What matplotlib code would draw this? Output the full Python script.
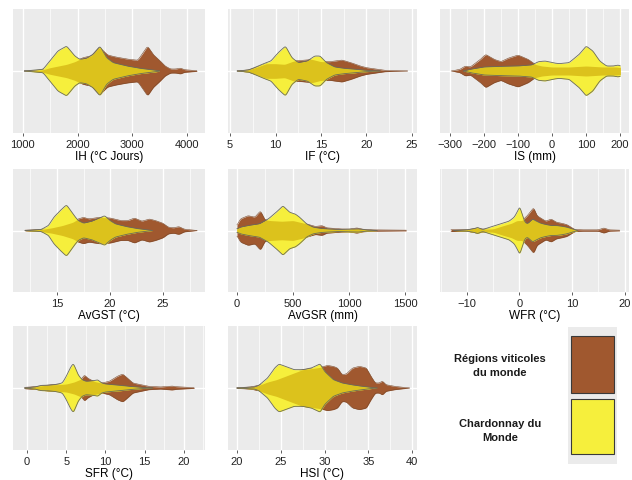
import numpy as np
import matplotlib.pyplot as plt

plt.rcParams['font.family'] = ['Liberation Sans', 'DejaVu Sans']

# Half-width profiles of each violin (value, half-width in px at 3x scale)
ih_brown_x = [1030, 1350, 1500, 1650, 1800, 1950, 2100, 2250, 2400, 2550, 2700, 2900, 3100, 3200, 3280, 3380, 3500, 3600, 3700, 3800, 3880, 3950, 4180]
ih_brown_w = [0, 3, 10, 15, 20, 28, 40, 45, 72, 48, 42, 36, 32, 55, 75, 50, 32, 15, 6, 6, 9, 4, 1]
ih_yellow_x = [1030, 1370, 1490, 1640, 1800, 1950, 2040, 2160, 2285, 2410, 2530, 2650, 2900, 3140, 3450, 3500]
ih_yellow_w = [0, 5, 30, 60, 75, 45, 35, 38, 50, 75, 40, 25, 15, 8, 2, 0]

if_brown_x = [5.8, 7, 8, 9, 10, 11, 12, 13, 14, 15, 16, 17.3, 18.3, 19.3, 20, 21, 22, 23, 24.5]
if_brown_w = [0, 3, 12, 22, 22, 20, 30, 32, 35, 28, 28, 33, 25, 15, 10, 6, 2, 1, 0]
if_yellow_x = [5.8, 7, 7.5, 8.5, 9.5, 10.3, 11.1, 11.8, 12.5, 13.5, 14.3, 14.9, 15.6, 16.5, 17.5, 18.5, 19.5, 20.5, 21.5]
if_yellow_w = [0, 3, 8, 20, 30, 55, 75, 40, 25, 30, 45, 45, 25, 12, 8, 6, 3, 1, 0]

is_brown_x = [-295, -270, -255, -240, -210, -195, -170, -150, -130, -100, -70, -50, -30, 0, 50, 100, 150, 190, 200]
is_brown_w = [0, 5, 15, 12, 35, 50, 35, 28, 38, 48, 35, 20, 15, 12, 12, 15, 12, 12, 10]
is_yellow_x = [-260, -240, -200, -150, -100, -60, -40, -20, 0, 20, 50, 80, 100, 120, 140, 160, 180, 195, 200]
is_yellow_w = [0, 5, 12, 14, 15, 18, 28, 30, 25, 22, 25, 50, 75, 60, 30, 15, 15, 18, 15]

gst_brown_x = [12, 13.5, 14.5, 15.5, 16.5, 17, 17.5, 18, 19, 20, 21, 21.7, 22.3, 23, 23.7, 24.3, 25, 25.5, 26, 26.5, 27, 28.2]
gst_brown_w = [1, 3, 8, 15, 25, 35, 40, 35, 40, 38, 30, 30, 38, 28, 35, 30, 22, 10, 8, 12, 4, 0]
gst_yellow_x = [12, 13.5, 14.2, 14.7, 15.3, 15.9, 16.5, 17, 17.5, 18.3, 19, 19.5, 20, 20.5, 21.5, 22.5, 23.5, 24]
gst_yellow_w = [0, 3, 15, 40, 60, 78, 50, 30, 22, 28, 38, 45, 30, 20, 12, 6, 2, 0]

gsr_brown_x = [0, 30, 100, 160, 210, 250, 300, 400, 500, 600, 700, 760, 800, 850, 900, 1000, 1070, 1120, 1200, 1510]
gsr_brown_w = [15, 35, 45, 40, 60, 32, 30, 28, 30, 22, 12, 15, 8, 7, 5, 4, 8, 4, 2, 1]
gsr_yellow_x = [0, 30, 100, 200, 280, 350, 410, 470, 520, 560, 620, 680, 750, 800, 900, 1000, 1080, 1150, 1250]
gsr_yellow_w = [5, 10, 15, 20, 35, 55, 75, 55, 50, 40, 20, 10, 6, 5, 3, 4, 5, 2, 0]

wfr_brown_x = [-13, -12, -10, -8, -7, -5, -3, -1.5, -0.5, 0.5, 1.5, 2.7, 3.3, 4, 5, 6, 7, 8, 9, 10, 10.5, 12, 15, 16, 17, 19]
wfr_brown_w = [3, 3, 2, 8, 4, 5, 15, 22, 30, 30, 45, 70, 45, 38, 28, 35, 25, 22, 18, 8, 3, 2, 2, 8, 2, 1]
wfr_yellow_x = [-12.5, -10, -8.5, -8, -7.5, -7, -6, -4, -2, -1, -0.3, 0, 0.5, 1, 1.5, 2.5, 3, 4, 5, 6, 7, 8, 9, 10, 11]
wfr_yellow_w = [0, 2, 6, 10, 6, 3, 8, 18, 28, 40, 60, 75, 50, 25, 20, 35, 30, 22, 18, 15, 15, 13, 10, 5, 0]

sfr_brown_x = [-0.3, 1, 2, 3, 4, 5, 6, 7, 7.3, 7.7, 8.5, 9.5, 10.5, 11.5, 12.2, 12.8, 13.5, 14.5, 15.5, 17, 18.5, 19, 21.3]
sfr_brown_w = [2, 4, 7, 10, 10, 12, 18, 28, 40, 30, 20, 15, 20, 35, 42, 30, 15, 10, 5, 3, 6, 4, 1]
sfr_yellow_x = [-0.3, 1, 1.8, 2.5, 3.5, 4.5, 5, 5.5, 5.9, 6.5, 7, 7.5, 8.5, 9, 9.5, 10, 11, 12, 13, 14, 15, 16]
sfr_yellow_w = [0, 3, 8, 8, 10, 15, 35, 60, 75, 40, 25, 20, 22, 25, 15, 12, 10, 8, 5, 3, 1, 0]

hsi_brown_x = [20, 21.5, 22.5, 23.5, 24.5, 25.5, 26.5, 27.5, 28.5, 29.5, 30.3, 31, 31.5, 32, 32.5, 33.2, 34, 34.8, 35.2, 35.8, 36.3, 36.6, 37, 38, 39.7]
hsi_brown_w = [1, 3, 8, 18, 25, 35, 45, 55, 58, 62, 68, 65, 60, 40, 42, 60, 65, 60, 40, 15, 15, 22, 10, 5, 0]
hsi_yellow_x = [20, 22, 22.5, 23.5, 24.3, 24.8, 25.5, 26.5, 27.5, 28.5, 29.5, 30, 31, 32, 33, 34, 35, 35.5, 36]
hsi_yellow_w = [0, 3, 8, 30, 60, 72, 65, 55, 55, 60, 73, 50, 25, 15, 10, 6, 3, 1, 0]

labels = ['IH (°C Jours)', 'IF (°C)', 'IS (mm)', 'AvGST (°C)', 'AvGSR (mm)',
          'WFR (°C)', 'SFR (°C)', 'HSI (°C)']
ticks = [[1000, 2000, 3000, 4000], [5, 10, 15, 20, 25], [-300, -200, -100, 0, 100, 200],
         [15, 20, 25], [0, 500, 1000, 1500], [-10, 0, 10, 20], [0, 5, 10, 15, 20],
         [20, 25, 30, 35, 40]]
limits = [(820, 4330), (4.78, 25.55), (-329, 226), (10.85, 28.96), (-80, 1607),
          (-15.1, 20.8), (-1.8, 22.7), (18.97, 40.57)]
legend_labels = ['Régions viticoles\ndu monde', 'Chardonnay du\nMonde']

profiles = [
    (ih_brown_x, ih_brown_w, ih_yellow_x, ih_yellow_w),
    (if_brown_x, if_brown_w, if_yellow_x, if_yellow_w),
    (is_brown_x, is_brown_w, is_yellow_x, is_yellow_w),
    (gst_brown_x, gst_brown_w, gst_yellow_x, gst_yellow_w),
    (gsr_brown_x, gsr_brown_w, gsr_yellow_x, gsr_yellow_w),
    (wfr_brown_x, wfr_brown_w, wfr_yellow_x, wfr_yellow_w),
    (sfr_brown_x, sfr_brown_w, sfr_yellow_x, sfr_yellow_w),
    (hsi_brown_x, hsi_brown_w, hsi_yellow_x, hsi_yellow_w),
]

BROWN = '#a0582f'
YELLOW = '#f6ef3c'
GOLD = '#dcc21c'
BG = '#ebebeb'
SCALE = 186.0  # px (3x) per axis unit


def smooth(y, n=5):
    k = np.exp(-0.5 * (np.arange(-3 * n, 3 * n + 1) / n) ** 2)
    k /= k.sum()
    pad = np.pad(y, 3 * n, mode='edge')
    return np.convolve(pad, k, mode='same')[3 * n:-3 * n]


def profile(grid, xs, ws):
    w = np.interp(grid, xs, np.asarray(ws) / SCALE, left=0, right=0)
    w = smooth(w)
    w[(grid < xs[0]) | (grid > xs[-1])] = np.nan
    return w


W, H = 632, 481
fig = plt.figure(figsize=(W / 100, H / 100), dpi=100)

cols = [(13, 205), (228, 417), (440, 629)]
rows = [(10, 134), (170, 293), (327, 451)]

for i, (bx, bw, yx, yw) in enumerate(profiles):
    x0, x1 = cols[i % 3]
    y0, y1 = rows[i // 3]
    ax = fig.add_axes([x0 / W, 1 - y1 / H, (x1 - x0) / W, (y1 - y0) / H])
    ax.set_facecolor(BG)
    for s in ax.spines.values():
        s.set_visible(False)

    lo, hi = limits[i]
    ax.set_xlim(lo, hi)
    ax.set_ylim(-1, 1)
    t = ticks[i]
    step = t[1] - t[0]
    minors = [v + step / 2 for v in [t[0] - step] + t if lo < v + step / 2 < hi]
    for m in minors:
        ax.axvline(m, color='white', lw=0.5, zorder=0)
    for v in t:
        ax.axvline(v, color='white', lw=1.0, zorder=0)
    ax.axhline(0, color='white', lw=1.0, zorder=0)

    grid = np.linspace(min(bx[0], yx[0]), max(bx[-1], yx[-1]), 900)
    b = profile(grid, bx, bw)
    y = profile(grid, yx, yw)
    g = np.fmin(np.nan_to_num(b), np.nan_to_num(y))

    ax.fill_between(grid, -b, b, color=BROWN, lw=0, zorder=2)
    ax.plot(grid, b, color='#7a4a2c', lw=0.4, zorder=2)
    ax.plot(grid, -b, color='#7a4a2c', lw=0.4, zorder=2)
    ax.fill_between(grid, -y, y, color=YELLOW, lw=0, zorder=3)
    ax.fill_between(grid, -g, g, color=GOLD, lw=0, zorder=4)
    ax.plot(grid, y, color='#6b6b5a', lw=0.6, zorder=5)
    ax.plot(grid, -y, color='#6b6b5a', lw=0.6, zorder=5)

    ax.set_xticks(t)
    ax.set_xticklabels([f'{v:g}'.replace('-', '\u2212') for v in t])
    ax.set_yticks([])
    ax.tick_params(axis='x', length=2.5, width=0.6, color='#444444',
                   labelsize=8, labelcolor='#222222', pad=2)
    ax.set_xlabel(labels[i], fontsize=8.5, labelpad=0.5, color='black')

# legend panel
lax = fig.add_axes([0, 0, 1, 1], facecolor='none')
lax.set_xlim(0, W)
lax.set_ylim(H, 0)
lax.axis('off')
lax.add_patch(plt.Rectangle((568, 328), 49, 137, color=BG, lw=0))
lax.add_patch(plt.Rectangle((571, 337), 43, 57, facecolor=BROWN, edgecolor='#3a3a3a', lw=0.8))
lax.add_patch(plt.Rectangle((571, 400), 43, 55, facecolor=YELLOW, edgecolor='#3a3a3a', lw=0.8))
lax.text(500, 366, legend_labels[0], ha='center', va='center', fontsize=8,
         fontweight='bold', linespacing=1.4, color='#1a1a1a')
lax.text(500, 431, legend_labels[1], ha='center', va='center', fontsize=8,
         fontweight='bold', linespacing=1.4, color='#1a1a1a')

fig.savefig('out.png', dpi=100)
